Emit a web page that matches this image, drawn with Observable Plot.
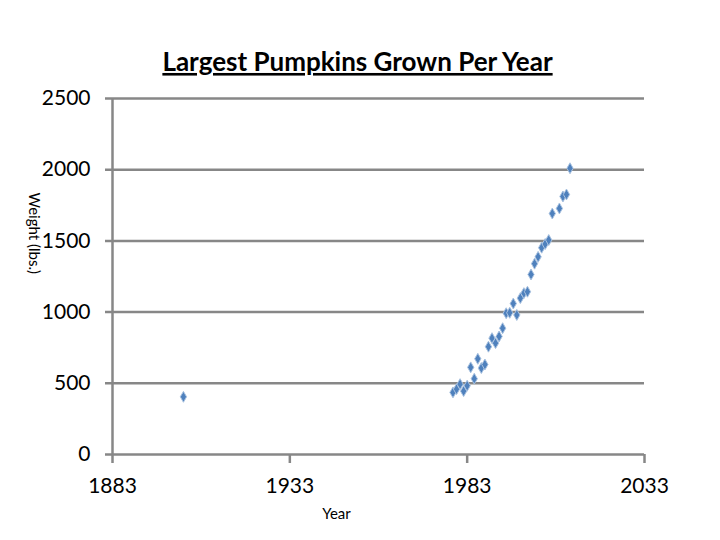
<!DOCTYPE html>
<html>
<head>
<meta charset="utf-8">
<script src="https://cdn.jsdelivr.net/npm/d3@7"></script>
<script src="https://cdn.jsdelivr.net/npm/@observablehq/plot@0.6"></script>
<style>
  html, body { margin: 0; padding: 0; background: #fff; }
  svg { display: block; }
</style>
</head>
<body>
<div id="chart"></div>
<script>
const years = [1903, 1979, 1980, 1981, 1982, 1983, 1984, 1985, 1986, 1987, 1988, 1989, 1990, 1991, 1992, 1993, 1994, 1995, 1996, 1997, 1998, 1999, 2000, 2001, 2002, 2003, 2004, 2005, 2006, 2007, 2009, 2010, 2011, 2012];
const weights = [405, 436, 459, 494, 445, 483, 612, 532, 672, 607, 632, 757, 817, 782, 829, 887, 992, 995, 1060, 980, 1098, 1133, 1143, 1264, 1340, 1388, 1452, 1478, 1506, 1692, 1728, 1812, 1826, 2010];
const xTicks = [1883, 1933, 1983, 2033];
const yTicks = [0, 500, 1000, 1500, 2000, 2500];
const title = "Largest Pumpkins Grown Per Year";
const xLabel = "Year";
const yLabel = "Weight (lbs.)";

const data = years.map((y, i) => ({year: y, weight: weights[i]}));
const grid = "#878787";
const font = "Lato, 'Open Sans', sans-serif";

const chart = Plot.plot({
  width: 720,
  height: 540,
  marginLeft: 112,
  marginRight: 76,
  marginTop: 98,
  marginBottom: 86,
  style: {fontFamily: font, background: "#fff", color: "#000"},
  x: {type: "linear", domain: [1883, 2033]},
  y: {type: "linear", domain: [0, 2500]},
  marks: [
    Plot.ruleY(yTicks, {stroke: grid, strokeWidth: 2.5, insetLeft: -7}),
    Plot.ruleX([1883], {stroke: grid, strokeWidth: 2.5}),
    Plot.axisX({ticks: xTicks, tickSize: 9, tickPadding: 15, tickFormat: d => String(d), fontSize: 21, label: null, stroke: grid, strokeWidth: 2.5, strokeOpacity: 1}),
    Plot.axisY({ticks: yTicks, tickSize: 0, tickPadding: 22, tickFormat: d => String(d), fontSize: 21, label: null}),
    Plot.dot(data, {x: "year", y: "weight", symbol: "diamond", r: 3.3, fill: "#4F81BD", stroke: "#A9C2E0", strokeWidth: 1}),
    Plot.text([title], {frameAnchor: "top", dx: -21, dy: -46, fontSize: 26, fontWeight: "bold", fill: "#000"}),
    Plot.text([yLabel], {frameAnchor: "left", rotate: 90, dx: -79, dy: -84, fontSize: 15, fill: "#000"}),
    Plot.text([xLabel], {frameAnchor: "bottom", dx: -42, dy: 64, fontSize: 15, fill: "#000"})
  ]
});

d3.select(chart).selectAll("text").filter(function() { return this.textContent === title; })
  .style("text-decoration", "underline");
document.getElementById("chart").appendChild(chart);
</script>
</body>
</html>
